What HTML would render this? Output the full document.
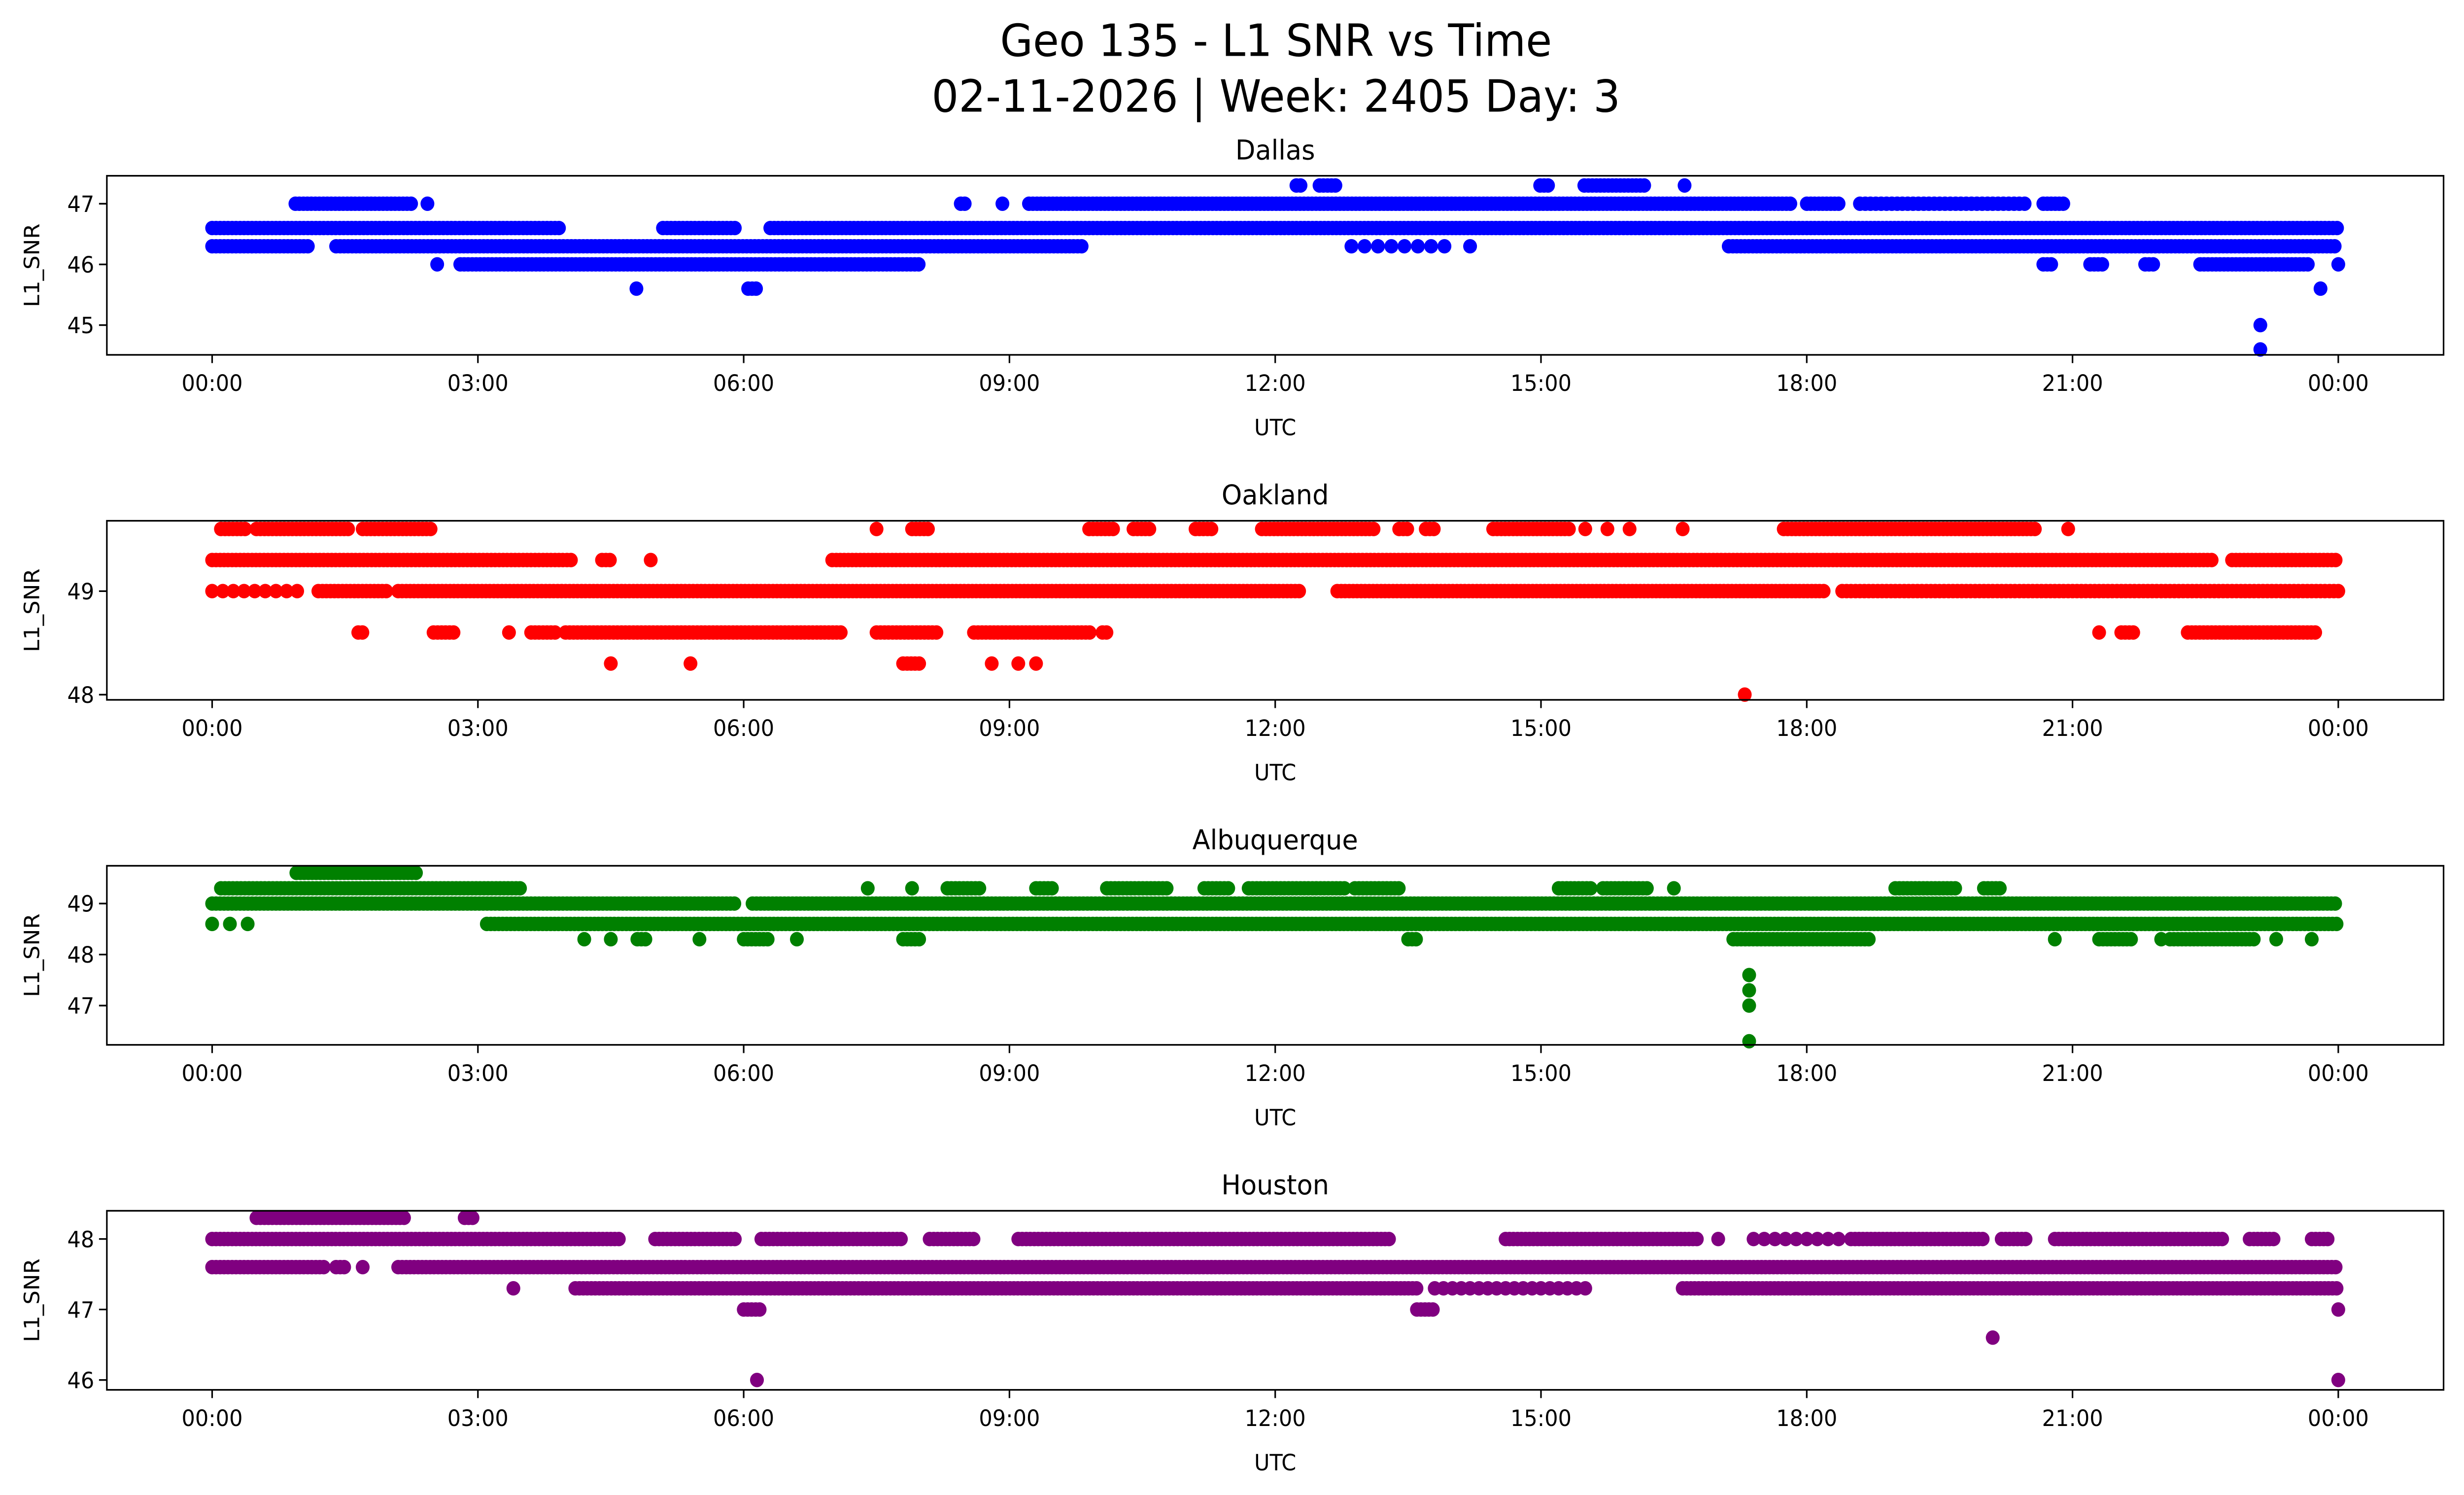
<!DOCTYPE html>
<html><head><meta charset="utf-8"><style>
html,body{margin:0;padding:0;background:#fff;overflow:hidden;width:100%;height:100%;}
svg{display:block;width:100vw;height:100vh;}
text{font-family:"DejaVu Sans","Liberation Sans",sans-serif;fill:#000;}
</style></head><body>
<svg id="fig" viewBox="0 0 1568 910" preserveAspectRatio="none" xmlns="http://www.w3.org/2000/svg">
<rect width="1568" height="910" fill="#fff"/>
<text x="812" y="34" font-size="27" text-anchor="middle">Geo 135 - L1 SNR vs Time</text>
<text x="812" y="68" font-size="27" text-anchor="middle">02-11-2026 | Week: 2405 Day: 3</text>
<g id="plots"></g>
</svg>
<script>
// segments: [startHour, endHour, SNR, optional step]
const stations = ["Dallas","Oakland","Albuquerque","Houston"];
const colors = ["#0000ff","#ff0000","#008000","#800080"];
const yTicks = [[45,46,47],[48,49],[47,48,49],[46,47,48]];
const yLims = [[44.51,47.46],[47.95,49.68],[46.23,49.74],[45.86,48.4]];
const xTickHours = [0,3,6,9,12,15,18,21,24];
const xTickLabels = ["00:00","03:00","06:00","09:00","12:00","15:00","18:00","21:00","00:00"];
const dallasSegs = [
 [0,3.94,46.6],[5.09,5.94,46.6],[6.3,24,46.6],
 [0,1.1,46.3],[1.4,9.85,46.3],[12.86,14.0,46.3,0.15],[14.2,14.2,46.3],[17.12,24,46.3],
 [0.94,2.25,47.0],[2.43,2.43,47.0],[8.45,8.5,47.0],[8.92,8.92,47.0],[9.22,17.83,47.0],[18.0,18.4,47.0],[18.6,20.49,47.0,0.06],[20.67,20.93,47.0],
 [2.54,2.54,46.0],[2.8,7.98,46.0],[20.67,20.8,46.0],[21.2,21.35,46.0],[21.82,21.95,46.0],[22.44,23.68,46.0],[24,24,46.0],
 [12.24,12.3,47.3],[12.5,12.68,47.3],[14.99,15.1,47.3],[15.49,16.2,47.3],[16.62,16.62,47.3],
 [4.79,4.79,45.6],[6.05,6.15,45.6],[23.8,23.8,45.6],[23.12,23.12,45.0],[23.12,23.12,44.6]
];
const oaklandSegs = [
 [0,4.08,49.3],[4.4,4.5,49.3],[4.95,4.95,49.3],[7.0,22.6,49.3],[22.8,24,49.3],
 [0,1.0,49.0,0.12],[1.2,2.0,49.0],[2.1,12.3,49.0],[12.7,18.2,49.0],[18.4,24,49.0,0.05],
 [0.1,0.4,49.6],[0.5,1.55,49.6],[1.7,2.5,49.6],[7.5,7.5,49.6],[7.9,8.1,49.6],[9.9,10.2,49.6],[10.4,10.6,49.6],[11.1,11.3,49.6],[11.85,13.13,49.6],[13.4,13.5,49.6],[13.7,13.8,49.6],[14.46,15.35,49.6],[15.5,16.0,49.6,0.25],[16.6,16.6,49.6],[17.74,20.6,49.6],[20.95,20.95,49.6],
 [1.65,1.7,48.6],[2.5,2.75,48.6],[3.35,3.35,48.6],[3.6,3.9,48.6],[3.99,7.1,48.6],[7.5,8.2,48.6],[8.6,9.93,48.6],[10.05,10.1,48.6],[21.3,21.3,48.6],[21.55,21.7,48.6],[22.3,23.77,48.6],
 [4.5,4.5,48.3],[5.4,5.4,48.3],[7.8,8.0,48.3],[8.8,8.8,48.3],[9.1,9.3,48.3,0.2],[17.3,17.3,48.0]
];
const albuquerqueSegs = [
 [0,5.9,49.0],[6.1,24,49.0],
 [0,0.4,48.6,0.2],[3.1,24,48.6],
 [0.1,3.5,49.3],[7.4,7.4,49.3],[7.9,7.9,49.3],[8.3,8.7,49.3],[9.3,9.5,49.3],[10.1,10.8,49.3],[11.2,11.5,49.3],[11.7,12.8,49.3],[12.9,13.4,49.3],[15.2,15.6,49.3],[15.7,16.2,49.3],[16.5,16.5,49.3],[19.0,19.7,49.3],[20.0,20.2,49.3],
 [0.95,2.3,49.6],
 [4.2,4.2,48.3],[4.5,4.5,48.3],[4.8,4.9,48.3],[5.5,5.5,48.3],[6.0,6.3,48.3],[6.6,6.6,48.3],[7.8,8.0,48.3],[13.5,13.6,48.3],[17.17,18.7,48.3],[20.8,20.8,48.3],[21.3,21.7,48.3],[22.0,22.0,48.3],[22.1,23.06,48.3],[23.3,23.3,48.3],[23.7,23.7,48.3],
 [17.35,17.35,47.6],[17.35,17.35,47.3],[17.35,17.35,47.0],[17.35,17.35,46.3]
];
const houstonSegs = [
 [0,4.6,48.0],[5.0,5.9,48.0],[6.2,7.8,48.0],[8.1,8.6,48.0],[9.1,13.3,48.0],[14.6,16.76,48.0],[17.0,17.0,48.0],[17.4,18.4,48.0,0.12],[18.5,20.0,48.0],[20.2,20.5,48.0],[20.8,22.7,48.0],[23.0,23.3,48.0],[23.7,23.9,48.0],
 [0,1.3,47.6],[1.4,1.5,47.6],[1.7,1.7,47.6],[2.1,24,47.6],
 [0.5,2.2,48.3],[2.85,2.95,48.3],
 [3.4,3.4,47.3],[4.1,13.6,47.3],[13.8,15.5,47.3,0.1],[16.6,24,47.3],
 [6.0,6.2,47.0],[13.6,13.8,47.0],[24,24,47.0],
 [20.1,20.1,46.6],[6.15,6.15,46.0],[24,24,46.0]
];
const allSegs = [dallasSegs,oaklandSegs,albuquerqueSegs,houstonSegs];

const NS="http://www.w3.org/2000/svg";
const g=document.getElementById('plots');
const axL=68, axR=1555, panelTops=[107,317,527,737], axH=109;
function xs(h){return 135+h*(1488-135)/24;}
function mk(tag,attrs,parent){const e=document.createElementNS(NS,tag);for(const k in attrs)e.setAttribute(k,attrs[k]);(parent||g).appendChild(e);return e;}
stations.forEach((name,i)=>{
  const top=panelTops[i], bot=top+axH, lim=yLims[i];
  const ys=v=>bot-(v-lim[0])/(lim[1]-lim[0])*axH;
  const pg=mk('g',{});
  
  
  const title=mk('text',{x:(axL+axR)/2,y:top-10,'font-size':16.5,'text-anchor':'middle'},pg);
  title.textContent=name;
  
  
  const pts=mk('g',{fill:colors[i]},pg);
  
  
  allSegs[i].forEach(s=>{
    const step=s[3]||0.045;
    for(let h=s[0];h<=s[1]+1e-9;h+=step){
      mk('circle',{cx:xs(h).toFixed(1),cy:ys(s[2]).toFixed(1),r:4.4},pts);
    }
  });
  const frame=mk('rect',{x:axL,y:top,width:axR-axL,height:axH,fill:'none',stroke:'#000','stroke-width':1},pg);
  
  
  xTickHours.forEach((h,k)=>{
    mk('line',{x1:xs(h),x2:xs(h),y1:bot,y2:bot+5,stroke:'#000','stroke-width':1},pg);
    const t=mk('text',{x:xs(h),y:bot+22,'font-size':13.5,'text-anchor':'middle'},pg);
    t.textContent=xTickLabels[k];
    
    
  });
  yTicks[i].forEach(v=>{
    mk('line',{x1:axL-5,x2:axL,y1:ys(v),y2:ys(v),stroke:'#000','stroke-width':1},pg);
    const t=mk('text',{x:axL-8,y:ys(v)+5,'font-size':13.5,'text-anchor':'end'},pg);
    t.textContent=String(v);
    
    
  });
  const xl=mk('text',{x:(axL+axR)/2,y:bot+49,'font-size':13.5,'text-anchor':'middle'},pg);
  xl.textContent='UTC';
  
  
  const yl=mk('text',{x:0,y:0,'font-size':13.5,'text-anchor':'middle',transform:`translate(25,${top+axH/2}) rotate(-90)`},pg);
  yl.textContent='L1_SNR';
  
  
});
</script>
</body></html>
